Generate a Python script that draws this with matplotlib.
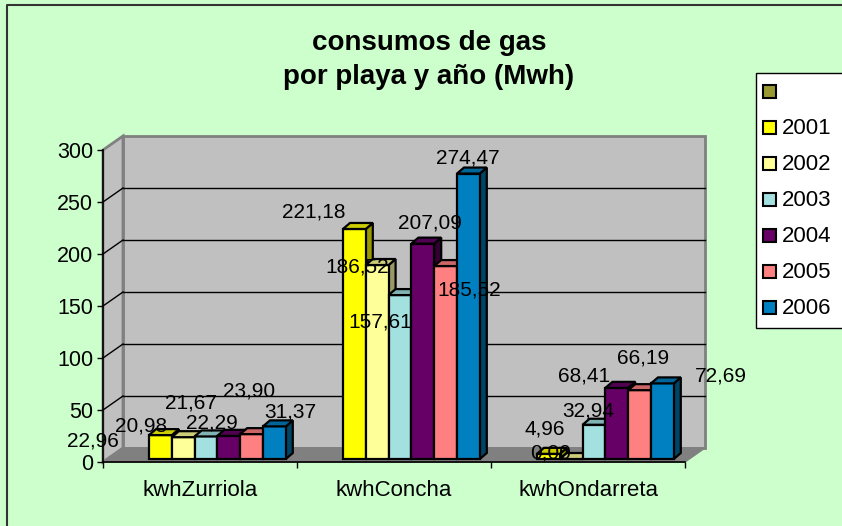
import matplotlib
matplotlib.use("Agg")
import matplotlib.pyplot as plt
from matplotlib.patches import Polygon, Rectangle

# data
categories = ["kwhZurriola", "kwhConcha", "kwhOndarreta"]
years = ["", "2001", "2002", "2003", "2004", "2005", "2006"]
v2001 = [22.96, 221.18, 4.96]
v2002 = [20.98, 186.52, 0.00]
v2003 = [21.67, 157.61, 32.94]
v2004 = [22.29, 207.09, 68.41]
v2005 = [23.90, 185.52, 66.19]
v2006 = [31.37, 274.47, 72.69]
series = [v2001, v2002, v2003, v2004, v2005, v2006]
y_ticks = [0, 50, 100, 150, 200, 250, 300]

# colours (legend has an empty olive entry first)
legend_colors = ["#999933", "#ffff00", "#ffff99", "#a3e0e0", "#660066", "#ff8080", "#0080c0"]
front_colors = ["#ffff00", "#ffff99", "#a3e0e0", "#660066", "#ff8080", "#0080c0"]
top_colors = ["#cccc00", "#cccc7a", "#82b3b3", "#520052", "#cc6666", "#006699"]
side_colors = ["#999900", "#999966", "#628686", "#330033", "#994d4d", "#004466"]

# Excel puts its 3D labels in odd places: pixel offsets from each bar top
label_offsets = [
    [(-67, 6), (-42, -11), (-15, -33), (-17, -13), (-3, -43), (16, -14)],
    [(-41, -17), (-20, 2), (-20, 27), (7, -21), (24, 24), (-1, -16)],
    [(-4, -25), (-21, -6), (-6, -14), (-33, -12), (3, -32), (58, -7)],
]

# geometry (1 category = 194 px, 300 units = 312 px)
PX_X = 1 / 194
PX_Y = 300 / 312
DX, DY = 20 * PX_X, 14 * PX_Y          # wall depth
GAP = 46 * PX_X                        # bars start inside category
BAR_W = 22.8 * PX_X
BASE = 3 * PX_Y
BDX, BDY = 7 * PX_X, 6 * PX_Y          # bar depth

FONT = "Liberation Sans"
plt.rcParams["font.family"] = [FONT, "DejaVu Sans"]

fig = plt.figure(figsize=(8.42, 5.26), dpi=100, facecolor="#ccffcc")

# background overlay in pixel coordinates
bg = fig.add_axes([0, 0, 1, 1], zorder=0)
bg.set_xlim(0, 842)
bg.set_ylim(526, 0)
bg.axis("off")
bg.plot([7, 7, 842], [526, 4.5, 4.5], color="#333333", lw=1.5)

bg.text(429, 60, "consumos de gas\npor playa y año (Mwh)", ha="center", va="center",
        fontsize=20, fontweight="bold", linespacing=1.4)

# legend
bg.add_patch(Rectangle((756, 73), 90, 255, fc="white", ec="black", lw=1))
for i, (lab, col) in enumerate(zip(years, legend_colors)):
    yc = 91 + i * 36
    bg.add_patch(Rectangle((763, yc - 6.5), 13, 13, fc=col, ec="black", lw=1.5))
    bg.text(782, yc + 1, lab, ha="left", va="center", fontsize=16)

ax = fig.add_axes([103 / 842, 64 / 526, 582 / 842, 312 / 526], zorder=1)
ax.set_facecolor("none")
ax.set_xlim(0, 3)
ax.set_ylim(0, 300)
for s in ax.spines.values():
    s.set_visible(False)

# walls and floor
ax.add_patch(Rectangle((DX, DY), 3, 300, fc="#c0c0c0", ec="#808080", lw=2, clip_on=False, zorder=1))
ax.add_patch(Polygon([(0, 0), (DX, DY), (DX, 300 + DY), (0, 300)], closed=True,
                     fc="#c0c0c0", ec="#808080", lw=2, clip_on=False, zorder=1))
ax.add_patch(Polygon([(0, 0), (3, 0), (3 + DX, DY), (DX, DY)], closed=True,
                     fc="#808080", ec="#808080", lw=1, clip_on=False, zorder=1))
for v in y_ticks[1:-1]:
    ax.plot([DX, 3 + DX], [v + DY, v + DY], color="black", lw=1, clip_on=False, zorder=2)
    ax.plot([0, DX], [v, v + DY], color="black", lw=1, clip_on=False, zorder=2)
ax.plot([0, 0], [0, 300], color="black", lw=1.2, clip_on=False, zorder=2)
ax.plot([0, 3], [0, 0], color="black", lw=1.2, clip_on=False, zorder=2)


def bar3d(x0, h, fc, tc, sc):
    b = BASE
    kw = dict(closed=True, ec="black", lw=1.6, joinstyle="miter", clip_on=False, zorder=3)
    ax.add_patch(Polygon([(x0 + BAR_W, b), (x0 + BAR_W + BDX, b + BDY),
                          (x0 + BAR_W + BDX, b + h + BDY), (x0 + BAR_W, b + h)], fc=sc, **kw))
    ax.add_patch(Polygon([(x0, b), (x0 + BAR_W, b), (x0 + BAR_W, b + h), (x0, b + h)], fc=fc, **kw))
    ax.add_patch(Polygon([(x0, b + h), (x0 + BAR_W, b + h), (x0 + BAR_W + BDX, b + h + BDY),
                          (x0 + BDX, b + h + BDY)], fc=tc, **kw))


for gi in range(len(categories)):
    for si, vals in enumerate(series):
        x0 = gi + GAP + si * BAR_W
        bar3d(x0, vals[gi], front_colors[si], top_colors[si], side_colors[si])

for gi in range(len(categories)):
    for si, vals in enumerate(series):
        xc = gi + GAP + (si + 0.5) * BAR_W
        ox, oy = label_offsets[gi][si]
        ax.annotate(f"{vals[gi]:.2f}".replace(".", ","), (xc, BASE + vals[gi]),
                    xytext=(ox, -oy), textcoords="offset pixels",
                    ha="center", va="center", fontsize=15, zorder=5, annotation_clip=False)

ax.set_yticks(y_ticks)
ax.set_yticklabels([str(t) for t in y_ticks])
ax.tick_params(axis="y", direction="out", length=4, width=1, labelsize=15.5, pad=3)
ax.set_xticks([0, 1, 2, 3])
ax.set_xticklabels([])
ax.set_xticks([0.5, 1.5, 2.5], minor=True)
ax.set_xticklabels(categories, minor=True, fontsize=16)
ax.tick_params(axis="x", which="major", direction="out", length=4, width=1)
ax.tick_params(axis="x", which="minor", length=0, pad=13)

fig.savefig("out.png", dpi=100, facecolor=fig.get_facecolor())
